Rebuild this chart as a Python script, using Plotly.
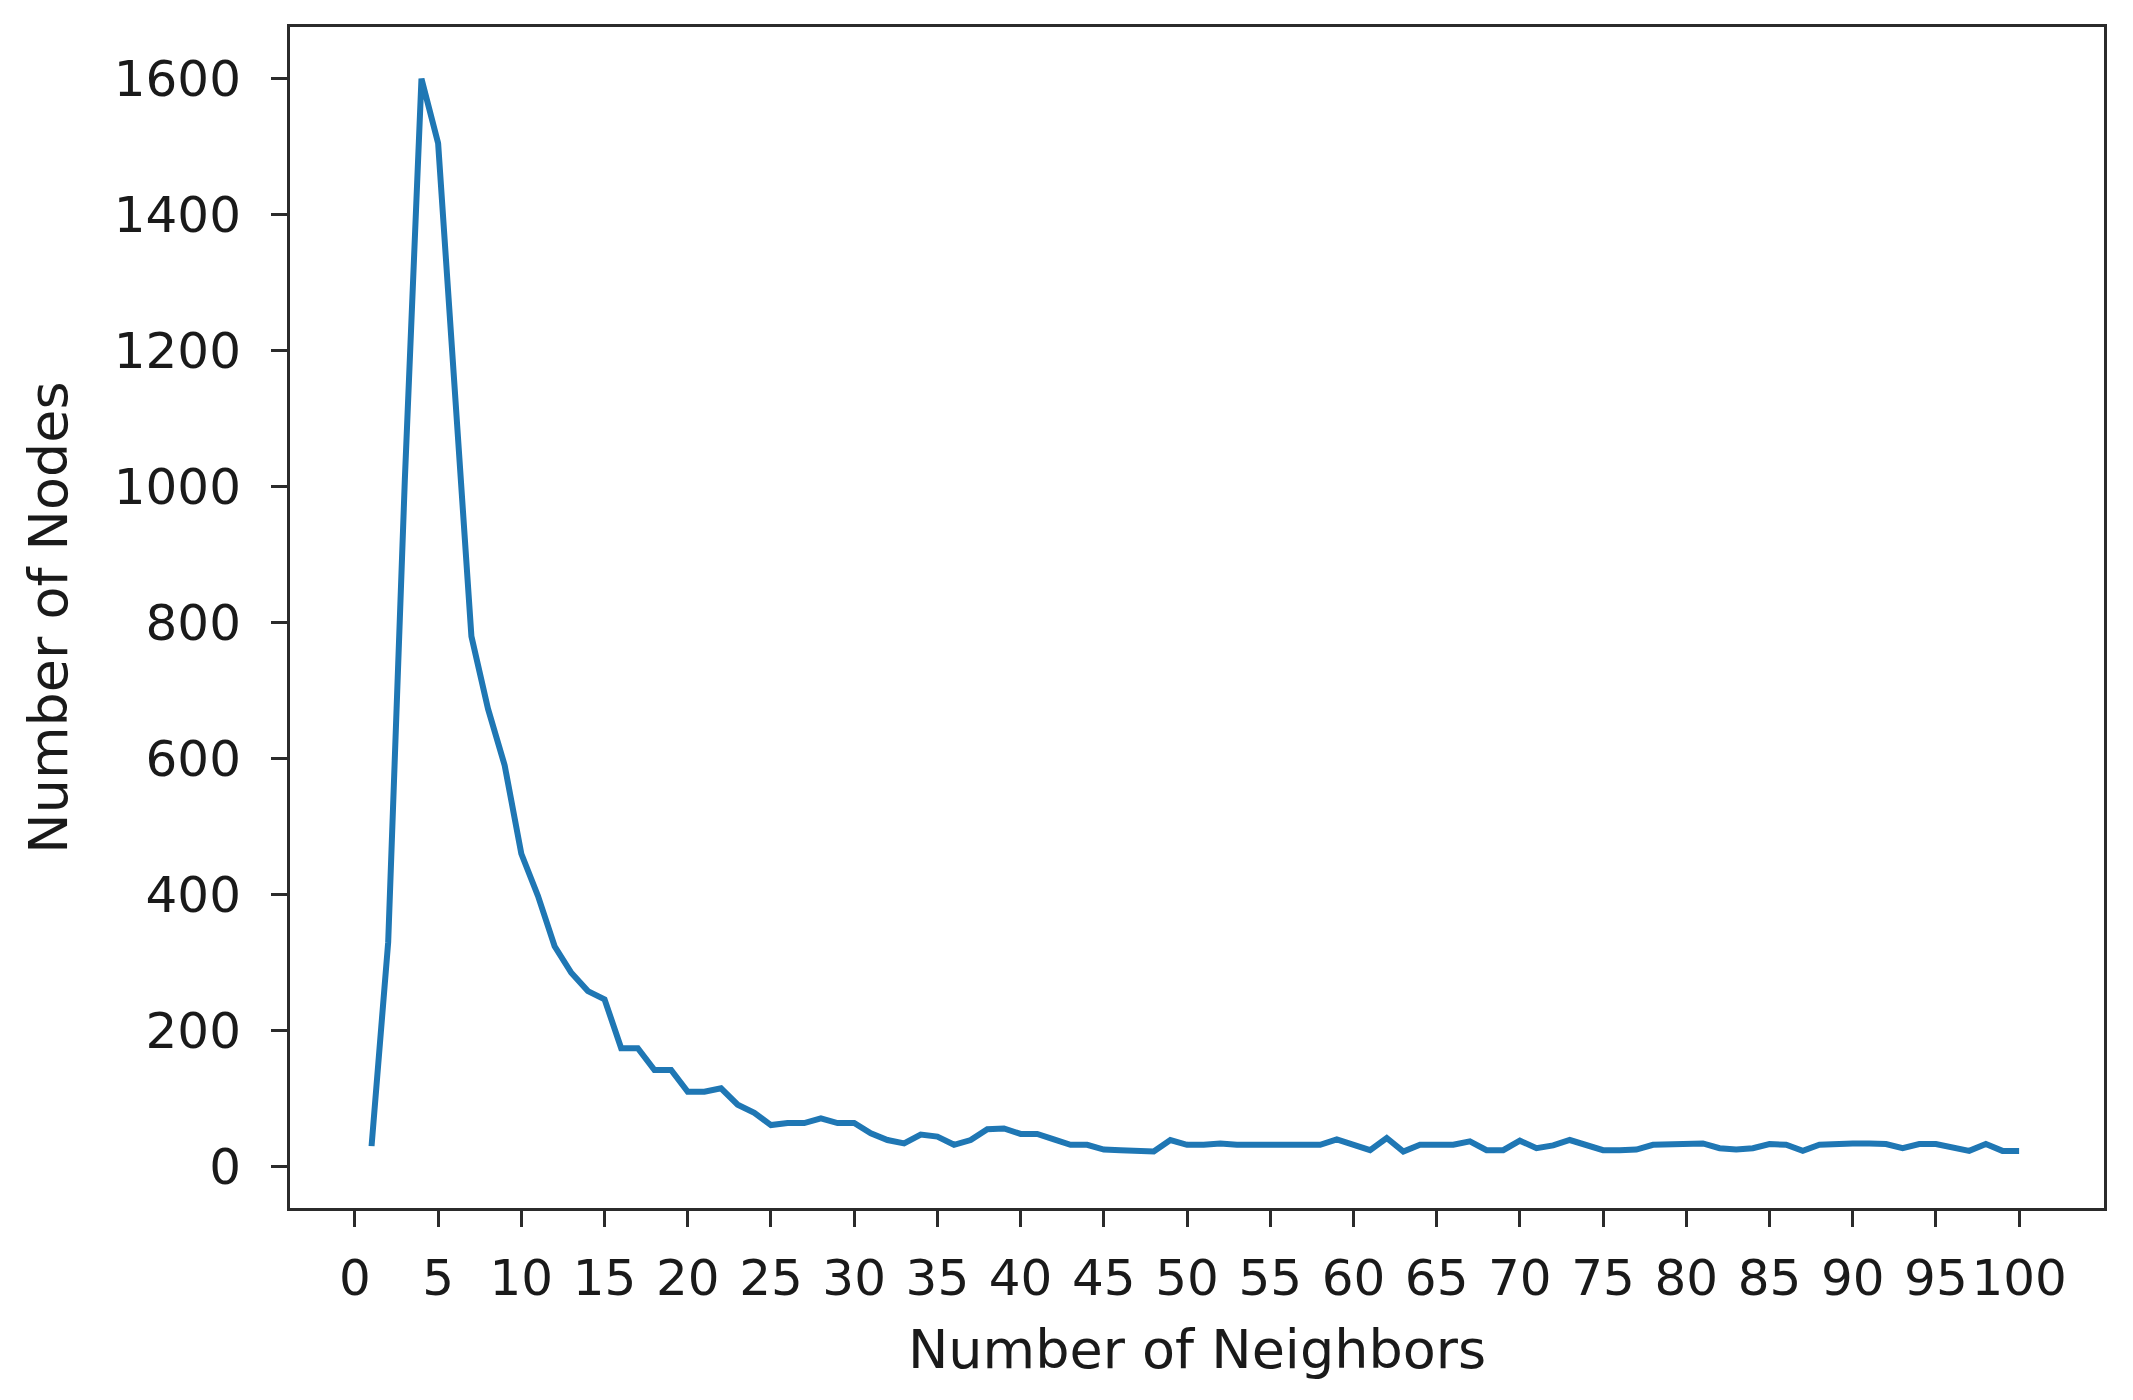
import plotly.graph_objects as go

# neighbor counts 1..100 and how many nodes have that many neighbors
neighbors = list(range(1, 101))
nodes = [
    30, 330, 1010, 1600, 1505, 1150, 780, 673, 590, 460,
    398, 324, 285, 258, 246, 174, 174, 142, 142, 110,
    110, 115, 91, 79, 61, 64, 64, 71, 64, 64,
    49, 39, 34, 47, 44, 32, 39, 55, 56, 48,
    48, 40, 32, 32, 25, 24, 24, 22, 39, 32,
    32, 34, 32, 32, 34, 34, 32, 32, 40, 32,
    24, 42, 22, 32, 32, 32, 37, 24, 24, 38,
    27, 31, 39, 32, 24, 24, 25, 32, 32, 33,
    34, 27, 25, 27, 33, 32, 23, 32, 34, 34,
    34, 33, 27, 33, 33, 29, 23, 33, 23, 23,
]

x_ticks = list(range(0, 101, 5))
y_ticks = list(range(0, 1601, 200))

fig = go.Figure()
fig.add_trace(go.Scatter(
    x=neighbors, y=nodes, mode='lines',
    line=dict(color='#1f77b4', width=6),
    showlegend=False,
))

axis_style = dict(
    showline=True, mirror=True, linewidth=3, linecolor='#2b2b2b',
    ticks='outside', ticklen=16, tickwidth=3, tickcolor='#2b2b2b',
    showgrid=False, zeroline=False, automargin=False,
    tickfont=dict(family='DejaVu Sans', size=50, color='#1a1a1a'),
    title_font=dict(family='DejaVu Sans', size=54, color='#1a1a1a'),
)

fig.update_xaxes(
    range=[-3.9, 105.1], tickvals=x_ticks, ticklabelstandoff=8,
    title_text='Number of Neighbors', title_standoff=25, **axis_style,
)
fig.update_yaxes(
    range=[-61, 1676], tickvals=y_ticks, ticklabelstandoff=20,
    title_text='Number of Nodes', title_standoff=29, **axis_style,
)

# the page body adds an 8px offset, so the figure is 8px smaller
fig.update_layout(
    width=2125, height=1392,
    margin=dict(l=282, r=29, t=19, b=192),
    plot_bgcolor='white', paper_bgcolor='white',
)

fig.write_html("out.html")
